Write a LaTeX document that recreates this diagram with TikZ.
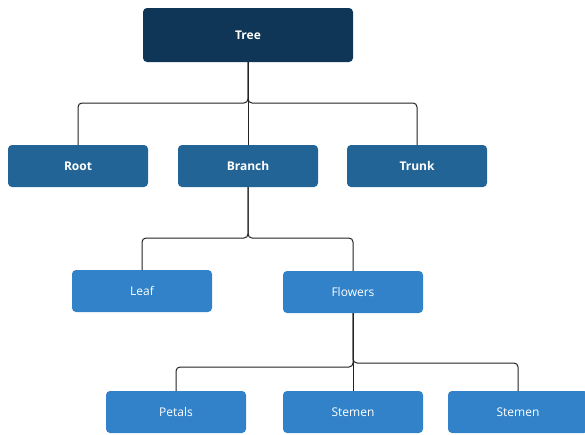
\documentclass[tikz,border=0pt]{standalone}
\usepackage{fontspec}
\setsansfont{Open Sans}
\usetikzlibrary{positioning}
\definecolor{treenavy}{HTML}{0F3657}
\definecolor{partblue}{HTML}{236496}
\definecolor{subblue}{HTML}{3182C9}
\definecolor{linkgray}{HTML}{222222}
\tikzset{
node distance=30pt, % gap between two boxes in a row
box/.style={rectangle, rounded corners=4pt, outer sep=0pt, minimum width=140pt, minimum height=42pt, text=white}, % every box
treebox/.style={box, fill=treenavy, minimum width=210pt, minimum height=54pt, font=\sffamily\fontsize{12}{14}\selectfont\bfseries}, % the top box
partbox/.style={box, fill=partblue, font=\sffamily\fontsize{12}{14}\selectfont\bfseries}, % second row
subbox/.style={box, fill=subblue, font=\sffamily\fontsize{12}{14}\selectfont}, % lower rows
link/.style={draw=linkgray, line width=1pt, rounded corners=4pt}, % the elbow lines
}
\begin{document}
\begin{tikzpicture}
    \useasboundingbox (0,0) rectangle (585pt,-434pt);
    \node[treebox] (tree) at (248pt,-35pt) {Tree};
    \node[partbox, below=83pt of tree] (branch) {Branch};
    \node[partbox, left=30pt of branch] (root) {Root};
    \node[partbox, right=29pt of branch] (trunk) {Trunk};
    \node[subbox, below=83pt of branch, xshift=-106pt] (leaf) {Leaf};
    \node[subbox, below=84pt of branch, xshift=105pt] (flowers) {Flowers};
    \node[subbox, below=78pt of flowers] (stemen) {Stemen};
    \node[subbox, left=37pt of stemen] (petals) {Petals};
    \node[subbox, right=25pt of stemen] (stemenb) {Stemen};
    \draw[link] (tree.south) -- ++(0,-41pt) -| (root.north);
    \draw[link] (tree.south) -- ++(0,-41pt) -| (trunk.north);
    \draw[link] (tree.south) -- (branch.north);
    \draw[link] (branch.south) -- ++(0,-51pt) -| (leaf.north);
    \draw[link] (branch.south) -- ++(0,-51pt) -| (flowers.north);
    \draw[link] (flowers.south) -- ++(0,-54pt) -| (petals.north);
    \draw[link] (flowers.south) -- ++(0,-50pt) -| (stemenb.north);
    \draw[link] (flowers.south) -- (stemen.north);
\end{tikzpicture}
\end{document}
